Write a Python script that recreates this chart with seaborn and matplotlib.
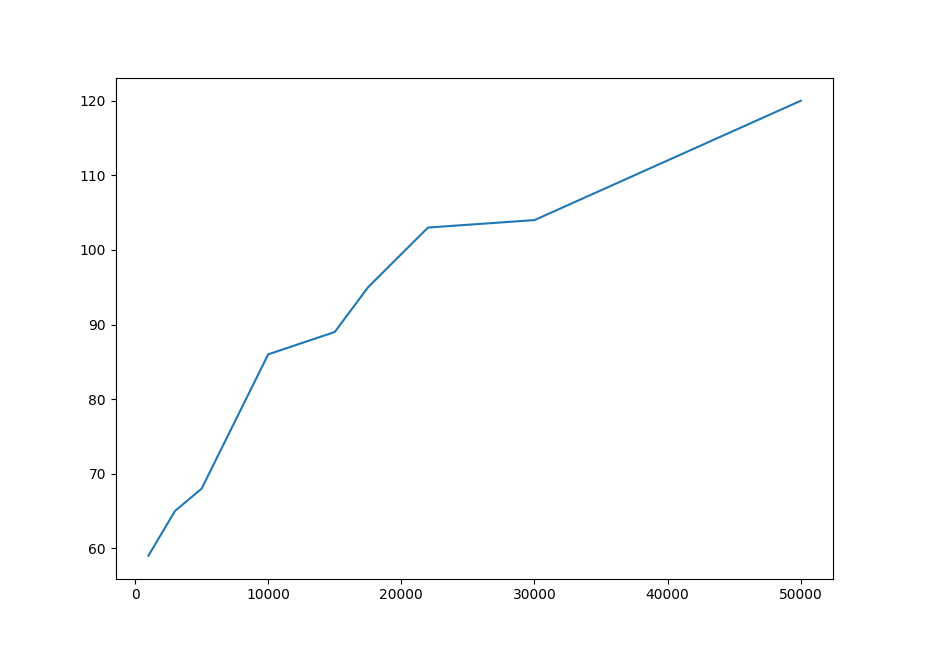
import matplotlib
matplotlib.use("Agg")
import matplotlib.pyplot as plt
import seaborn as sns
import pandas as pd

# data
x_vals = [1000, 3000, 5000, 10000, 15000, 17500, 22000, 30000, 50000]
y_vals = [59, 65, 68, 86, 89, 95, 103, 104, 120]

df = pd.DataFrame({"x": x_vals, "y": y_vals})

fig, ax = plt.subplots(figsize=(9.26, 6.5), dpi=100)
sns.lineplot(data=df, x="x", y="y", ax=ax, color="#1f77b4")
ax.set_xlabel("")
ax.set_ylabel("")
ax.set_yticks([60, 70, 80, 90, 100, 110, 120])

fig.savefig("out.png", dpi=100)
